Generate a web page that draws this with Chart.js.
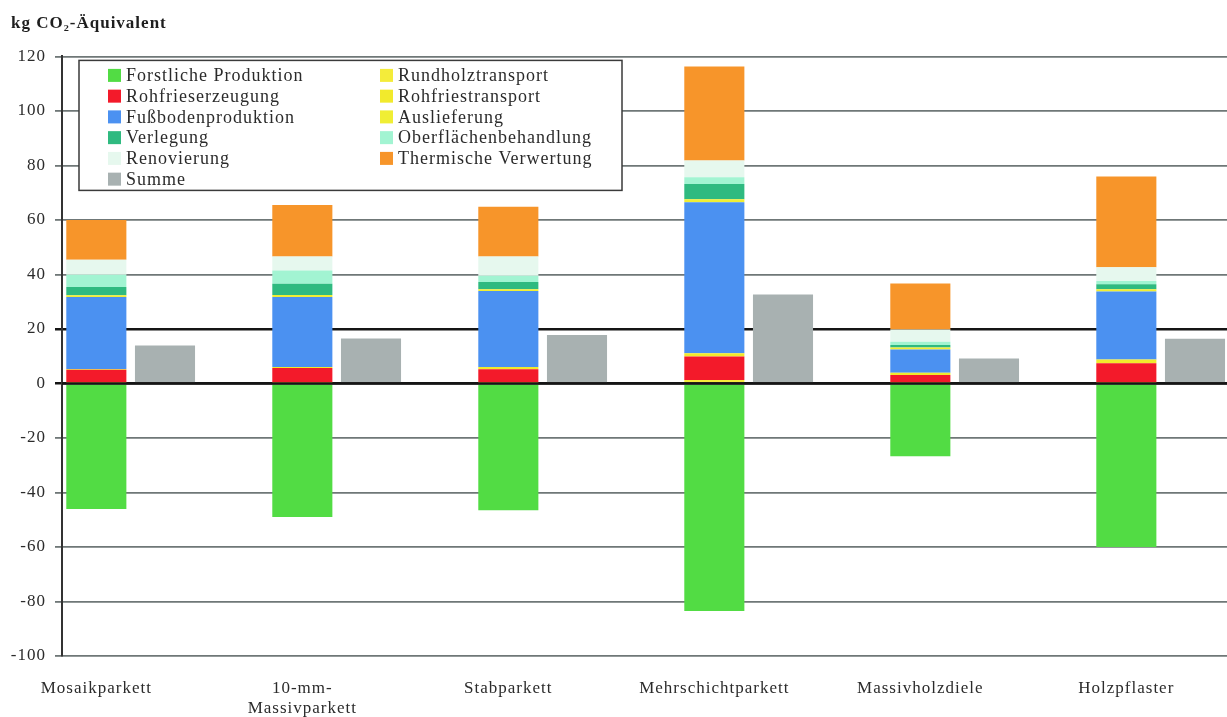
<!DOCTYPE html>
<html>
<head>
<meta charset="UTF-8">
<title>kg CO2-Äquivalent</title>
<script src="https://cdn.jsdelivr.net/npm/chart.js@4.4.0/dist/chart.umd.min.js"></script>
<style>
  html, body { margin: 0; padding: 0; background: #fff; overflow: hidden; }
  #wrap { position: relative; width: 1298px; height: 717px; }
</style>
</head>
<body>
<div id="wrap"><canvas id="chart"></canvas></div>
<script>
// categories
const categories = ['Mosaikparkett', ['10-mm-', 'Massivparkett'], 'Stabparkett', 'Mehrschichtparkett', 'Massivholzdiele', 'Holzpflaster'];

// series values, kg CO2-Äquivalent
const forstlicheProduktion = [-46.1, -49.0, -46.5, -83.5, -26.7, -60.0];
const rundholztransport    = [0.1, 0.1, 0.2, 1.3, 0.1, 0.2];
const rohfrieserzeugung    = [4.9, 5.6, 5.0, 8.6, 3.0, 7.2];
const rohfriestransport    = [0.3, 0.3, 0.8, 1.2, 0.8, 1.4];
const fussbodenproduktion  = [26.4, 25.7, 27.9, 55.4, 8.6, 24.9];
const auslieferung         = [0.7, 0.8, 0.7, 1.1, 0.7, 0.9];
const verlegung            = [3.0, 4.1, 2.6, 5.6, 0.9, 1.8];
const oberflaeche          = [4.5, 4.8, 2.3, 2.5, 1.2, 1.2];
const renovierung          = [5.5, 5.2, 7.1, 6.1, 4.5, 5.0];
const thermVerwertung      = [14.6, 18.9, 18.2, 34.5, 16.9, 33.3];
const summe                = [13.9, 16.5, 17.8, 32.6, 9.2, 16.4];

// y axis
const yMin = -100, yMax = 120, yStep = 20;

const FONT = '"Liberation Serif", "DejaVu Serif", serif';
const TEXT = '#2b2b2b';

function part(label, data, color) {
  return { label: label, data: data, backgroundColor: color, stack: 'teile' };
}

const datasets = [
  part('Forstliche Produktion', forstlicheProduktion, '#52dc44'),
  part('Rundholztransport', rundholztransport, '#f4ec3a'),
  part('Rohfrieserzeugung', rohfrieserzeugung, '#f31a2a'),
  part('Rohfriestransport', rohfriestransport, '#f2ea2c'),
  part('Fußbodenproduktion', fussbodenproduktion, '#4b91f1'),
  part('Auslieferung', auslieferung, '#f0ee34'),
  part('Verlegung', verlegung, '#2fba80'),
  part('Oberflächenbehandlung', oberflaeche, '#a2f4d2'),
  part('Renovierung', renovierung, '#e6f8ee'),
  part('Thermische Verwertung', thermVerwertung, '#f7952a'),
  { label: 'Summe', data: summe, backgroundColor: '#a8b1b1', stack: 'summe' },
  // empty third slot, the original leaves a gap after the Summe bar
  { label: '', data: categories.map(() => null), stack: 'leer', hideInLegend: true }
];

const spacing = {
  id: 'spacing',
  beforeLayout(chart) { chart.ctx.letterSpacing = '1px'; },
  beforeDraw(chart) { chart.ctx.letterSpacing = '1px'; }
};

// zero line sits on top of the bars
const zeroLine = {
  id: 'zeroLine',
  afterDatasetsDraw(chart) {
    const { ctx, chartArea, scales } = chart;
    const y = scales.y.getPixelForValue(0);
    ctx.save();
    ctx.strokeStyle = '#151515';
    ctx.lineWidth = 2.5;
    ctx.beginPath();
    ctx.moveTo(chartArea.left, y);
    ctx.lineTo(chartArea.right, y);
    ctx.stroke();
    ctx.restore();
  }
};

// two column legend box inside the plot
const legendBox = {
  id: 'legendBox',
  afterDraw(chart) {
    const { ctx, chartArea } = chart;
    const x0 = chartArea.left + 17, y0 = chartArea.top + 4, w = 543, h = 130;
    ctx.save();
    ctx.fillStyle = '#fff';
    ctx.fillRect(x0, y0, w, h);
    ctx.strokeStyle = '#3a3a3a';
    ctx.lineWidth = 1.5;
    ctx.strokeRect(x0, y0, w, h);
    ctx.font = '18px ' + FONT;
    ctx.letterSpacing = '1px';
    ctx.textBaseline = 'middle';
    ctx.textAlign = 'left';
    chart.data.datasets.forEach((ds, i) => {
      if (ds.hideInLegend) return;
      const row = Math.floor(i / 2), col = i % 2;
      const sx = x0 + 29 + col * 272;
      const cy = y0 + 15 + row * 20.75;
      ctx.fillStyle = ds.backgroundColor;
      ctx.fillRect(sx, cy - 6.5, 13, 13);
      ctx.fillStyle = TEXT;
      ctx.fillText(ds.label, sx + 18, cy + 1);
    });
    ctx.restore();
  }
};

new Chart(document.getElementById('chart'), {
  type: 'bar',
  data: { labels: categories, datasets: datasets },
  plugins: [spacing, zeroLine, legendBox],
  options: {
    responsive: true,
    maintainAspectRatio: false,
    animation: false,
    categoryPercentage: 1.0,
    barPercentage: 0.875,
    layout: { padding: { left: 11, right: 0, top: 0, bottom: 0 } },
    plugins: {
      legend: { display: false },
      tooltip: { enabled: false },
      title: {
        display: true,
        text: 'kg CO₂-Äquivalent',
        align: 'start',
        color: '#1e1e1e',
        font: { family: FONT, size: 17, weight: 'bold' },
        padding: { top: 13, bottom: 23 }
      }
    },
    scales: {
      x: {
        stacked: true,
        grid: { display: false },
        border: { display: false },
        ticks: {
          color: TEXT,
          font: { family: FONT, size: 17, lineHeight: 1.15 },
          padding: 15,
          labelOffset: -68.7,
          maxRotation: 0,
          autoSkip: false
        },
        afterFit(scale) { scale.height = 61; }
      },
      y: {
        stacked: true,
        min: yMin,
        max: yMax,
        ticks: {
          stepSize: yStep,
          color: TEXT,
          font: { family: FONT, size: 17 },
          padding: 9
        },
        grid: {
          color: c => (c.tick && (c.tick.value === 0 || c.tick.value === 20)) ? '#151515' : '#6f7777',
          lineWidth: c => (c.tick && (c.tick.value === 0 || c.tick.value === 20)) ? 2.5 : 1.8,
          tickLength: 7
        },
        border: { color: '#333', width: 2 },
        afterFit(scale) { scale.width = 51; }
      }
    }
  }
});
</script>
</body>
</html>
